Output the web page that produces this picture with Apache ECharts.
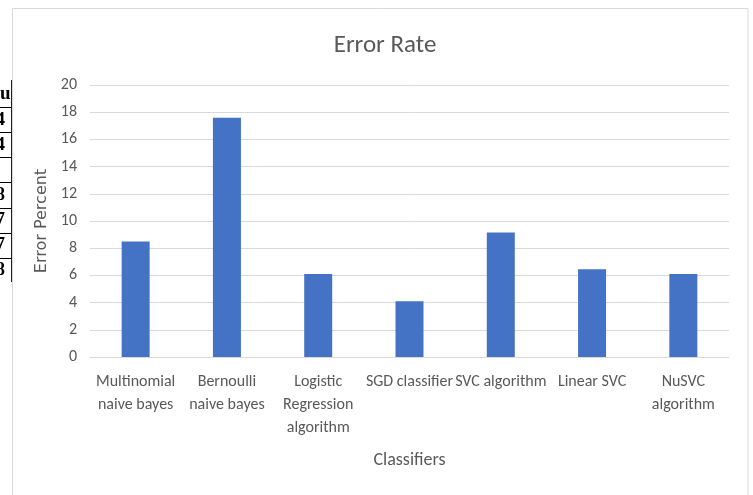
<!DOCTYPE html>
<html>
<head>
<meta charset="utf-8">
<script src="https://cdn.jsdelivr.net/npm/echarts@6/dist/echarts.min.js"></script>
<style>
  html, body { margin: 0; padding: 0; background: #ffffff; }
  #chart { width: 753px; height: 495px; }
</style>
</head>
<body>
<div id="chart"></div>
<script>
// ---- data ----
const chartTitle = 'Error Rate';
const xAxisTitle = 'Classifiers';
const yAxisTitle = 'Error Percent';
const categories = [
  'Multinomial\nnaive bayes',
  'Bernoulli\nnaive bayes',
  'Logistic\nRegression\nalgorithm',
  'SGD classifier',
  'SVC algorithm',
  'Linear SVC',
  'NuSVC\nalgorithm'
];
const errorPercent = [8.5, 17.6, 6.1, 4.1, 9.15, 6.45, 6.1];
const yMin = 0;
const yMax = 20;
const yStep = 2;
// fragment of a neighbouring table visible at the left edge of the picture
const tableFragmentTexts = ['Accu', '4', '4', '', '8', '7', '7', '8'];

// ---- chart ----
const chart = echarts.init(document.getElementById('chart'), null, { renderer: 'canvas' });
const calibriLike = 'Carlito, Lato, sans-serif';
const grey = '#595959';

const graphics = [];
// chart frame
graphics.push({
  type: 'rect', silent: true, z: -10,
  shape: { x: 12.5, y: 8.5, width: 735.5, height: 520 },
  style: { fill: '#ffffff', stroke: '#d9d9d9', lineWidth: 1 }
});
// table fragment
const rowTop = 82, rowH = 25.1;
tableFragmentTexts.forEach((t, i) => {
  const cy = rowTop + rowH * i + rowH / 2;
  if (t) {
    graphics.push({
      type: 'text', silent: true, z: 10,
      style: {
        text: t, x: i === 0 ? 10.5 : 5, y: cy,
        align: 'right', verticalAlign: 'middle',
        font: 'bold 19px "Liberation Serif", serif', fill: '#000'
      }
    });
  }
  if (i > 0) {
    graphics.push({
      type: 'line', silent: true, z: 10,
      shape: { x1: 0, y1: Math.round(rowTop + rowH * i) + 0.5, x2: 11, y2: Math.round(rowTop + rowH * i) + 0.5 },
      style: { stroke: '#000', lineWidth: 1 }
    });
  }
});
graphics.push({
  type: 'line', silent: true, z: 10,
  shape: { x1: 11.5, y1: 80, x2: 11.5, y2: 282 },
  style: { stroke: '#222', lineWidth: 1 }
});

chart.setOption({
  animation: false,
  backgroundColor: '#ffffff',
  graphic: graphics,
  title: {
    text: chartTitle,
    left: 380, top: 28, textAlign: 'center',
    textStyle: { fontFamily: calibriLike, fontSize: 25, fontWeight: 'normal', color: grey }
  },
  grid: { left: 90, right: 24, top: 85, bottom: 138, containLabel: false },
  xAxis: {
    type: 'category',
    data: categories,
    name: xAxisTitle,
    nameLocation: 'middle',
    nameGap: 94,
    nameTextStyle: { fontFamily: calibriLike, fontSize: 18, color: grey },
    axisLine: { show: true, lineStyle: { color: '#d9d9d9', width: 1 } },
    axisTick: { show: false },
    axisLabel: {
      interval: 0, margin: 13,
      fontFamily: calibriLike, fontSize: 16, lineHeight: 23, color: grey
    }
  },
  yAxis: {
    type: 'value',
    min: yMin, max: yMax, interval: yStep,
    name: yAxisTitle,
    nameLocation: 'middle',
    nameRotate: 90,
    nameGap: 31,
    nameTextStyle: { fontFamily: '"DejaVu Sans", sans-serif', fontSize: 16, color: grey },
    axisLine: { show: false },
    axisTick: { show: false },
    axisLabel: { margin: 13, fontFamily: calibriLike, fontSize: 16, color: grey },
    splitLine: { lineStyle: { color: '#d9d9d9', width: 1 } }
  },
  series: [{
    type: 'bar',
    data: errorPercent,
    barWidth: 28,
    itemStyle: { color: '#4472C4' }
  }]
});
</script>
</body>
</html>
